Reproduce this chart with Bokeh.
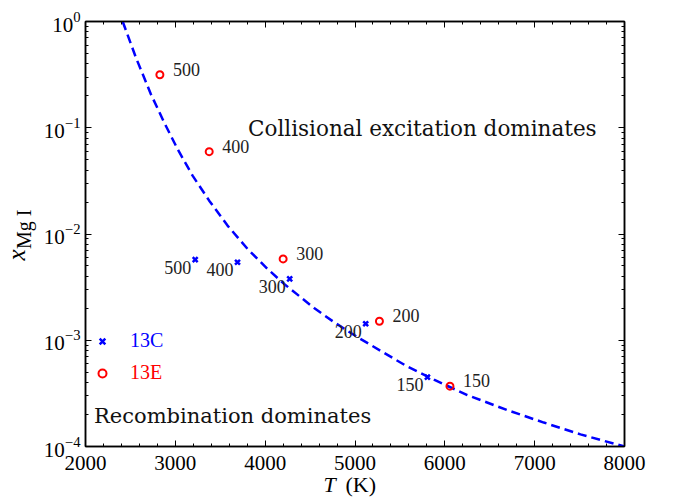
import numpy as np
from bokeh.plotting import figure
from bokeh.layouts import column, row
from bokeh.models import (LinearAxis, LogAxis, SingleIntervalTicker, LogTicker, Label,
                          Legend, LegendItem, ColumnDataSource, CustomJSTickFormatter)
from bokeh.core.properties import value
from bokeh.embed import file_html
from bokeh.resources import INLINE

# ---- data ----
curve_T = [2414, 2561, 2728, 2876, 3025, 3192, 3377, 3581, 3804, 4026, 4211, 4545,
           4767, 5027, 5286, 5583, 5879, 6250, 6695, 7102, 7510, 8000]
curve_x = [1.0, 0.458, 0.207, 0.112, 0.063, 0.0354, 0.0206, 0.0120, 7.24e-3, 4.69e-3,
           3.39e-3, 2.01e-3, 1.48e-3, 1.07e-3, 7.95e-4, 5.65e-4, 4.25e-4, 3.05e-4,
           2.2e-4, 1.68e-4, 1.3e-4, 1.0e-4]

c13_T = [3221, 3692, 4273, 5119, 5806]
c13_x = [5.74e-3, 5.42e-3, 3.78e-3, 1.43e-3, 4.49e-4]
c13_lab = ["500", "400", "300", "200", "150"]

e13_T = [2828, 3377, 4200, 5272, 6057]
e13_x = [0.315, 0.0596, 5.83e-3, 1.51e-3, 3.70e-4]
e13_lab = ["500", "400", "300", "200", "150"]

SERIF = "Liberation Serif"
WORDS = "DejaVu Serif"

H = 486  # height of the main figure / left strip

# ---- main plot ----
p = figure(width=639, height=H, x_range=(2000, 8000), y_range=(1e-4, 1),
           y_axis_type="log", output_backend="svg", toolbar_location=None,
           min_border_left=47, min_border_right=53, min_border_top=21,
           min_border_bottom=H - 446)
p.xgrid.visible = False
p.ygrid.visible = False
p.outline_line_color = "black"
p.outline_line_width = 1.5
p.background_fill_color = "white"
p.border_fill_color = "white"

bottom = p.below[0]
left = p.left[0]

blank = CustomJSTickFormatter(code="return ''")
top = LinearAxis(formatter=blank)
right = LogAxis(formatter=blank)
p.add_layout(top, "above")
p.add_layout(right, "right")

for ax in [bottom, top]:
    ax.ticker = SingleIntervalTicker(interval=1000, num_minor_ticks=5)
for ax in [left, right]:
    ax.ticker = LogTicker(num_minor_ticks=10)

for ax in [bottom, left, top, right]:
    ax.axis_line_color = "black"
    ax.axis_line_width = 1.5
    ax.major_tick_in = 6
    ax.major_tick_out = 0
    ax.minor_tick_in = 3
    ax.minor_tick_out = 0
    ax.major_tick_line_color = "black"
    ax.minor_tick_line_color = "black"
    ax.major_tick_line_width = 1
    ax.minor_tick_line_width = 1
    ax.major_label_text_font = SERIF
    ax.major_label_text_font_size = "21px"
    ax.major_label_text_color = "black"
    ax.axis_label = None

for ax in [top, right]:
    ax.major_label_text_font_size = "1px"
    ax.major_label_standoff = 0

bottom.major_label_standoff = 9
left.major_label_standoff = 5

# dashed curve
p.line(curve_T, curve_x, line_color="blue", line_width=2.5, line_dash="9 5")

src_c = ColumnDataSource(dict(T=c13_T, x=c13_x, lab=c13_lab))
src_e = ColumnDataSource(dict(T=e13_T, x=e13_x, lab=e13_lab))

r_c = p.scatter("T", "x", source=src_c, marker="x", size=7, line_width=2.5,
                line_color="blue")
r_e = p.scatter("T", "x", source=src_e, marker="circle", size=7, line_width=2,
                line_color="red", fill_color=None)

p.text("T", "x", text="lab", source=src_c, text_align="right", text_baseline="middle",
       x_offset=-4, y_offset=7.5, text_font=value(SERIF), text_font_size="18px",
       text_color="#222222")
p.text("T", "x", text="lab", source=src_e, text_align="left", text_baseline="middle",
       x_offset=13, y_offset=-5.5, text_font=value(SERIF), text_font_size="18px",
       text_color="#222222")

# legends (one per colour)
leg_c = Legend(items=[LegendItem(label="13C", renderers=[r_c])], location=(7, 94),
               padding=0, margin=0, glyph_width=20, glyph_height=20, label_height=20,
               label_standoff=18, border_line_alpha=0, background_fill_alpha=0,
               label_text_font=SERIF, label_text_font_size="20px",
               label_text_color="blue")
leg_e = Legend(items=[LegendItem(label="13E", renderers=[r_e])], location=(7, 62),
               padding=0, margin=0, glyph_width=20, glyph_height=20, label_height=20,
               label_standoff=18, border_line_alpha=0, background_fill_alpha=0,
               label_text_font=SERIF, label_text_font_size="20px",
               label_text_color="red")
p.add_layout(leg_c, "center")
p.add_layout(leg_e, "center")

# annotations inside the frame (frame-relative screen units)
p.add_layout(Label(x=162.5, y=318.4, x_units="screen", y_units="screen",
                   text="Collisional excitation dominates", text_font=WORDS,
                   text_font_size="21.5px", text_color="#111111",
                   text_baseline="middle"))
p.add_layout(Label(x=8.5, y=30.1, x_units="screen", y_units="screen",
                   text="Recombination dominates", text_font=WORDS,
                   text_font_size="21px", text_color="#111111",
                   text_baseline="middle"))


def strip(w, h, **kw):
    f = figure(width=w, height=h, x_range=(0, w), y_range=(0, h),
               output_backend="svg", toolbar_location=None,
               x_axis_location=None, y_axis_location=None,
               min_border_left=0, min_border_right=0, min_border_top=0,
               min_border_bottom=0, **kw)
    f.title.visible = False
    f.xgrid.visible = False
    f.ygrid.visible = False
    f.outline_line_color = None
    f.background_fill_alpha = 0
    f.border_fill_alpha = 0
    return f


# y-axis title strip (left of the main plot); coordinates are pixels from bottom
ylab = strip(38, H)
ylab.text(x=[16.3], y=[H - 267], text=["x"], angle=np.pi / 2,
          text_font=value(SERIF), text_font_style="italic", text_font_size="25px",
          text_align="center", text_baseline="middle", text_color="black")
ylab.text(x=[23.3], y=[H - 237.5], text=["Mg I"], angle=np.pi / 2,
          text_font=value(SERIF), text_font_size="20px",
          text_align="center", text_baseline="middle", text_color="black")

# x-axis title strip (below, pulled up over the empty border)
xlab = strip(677, 34, margin=(466 - H, 0, 0, 0))
xlab.add_layout(Label(x=323, y=15.9, x_units="screen", y_units="screen", text="T",
                      text_font=SERIF, text_font_style="italic", text_font_size="22px",
                      text_baseline="middle", text_color="black"))
xlab.add_layout(Label(x=345, y=15.9, x_units="screen", y_units="screen", text="(K)",
                      text_font=SERIF, text_font_size="22px",
                      text_baseline="middle", text_color="black"))

layout = column(row(ylab, p, spacing=0), xlab, spacing=0)

open("out.html", "w").write(file_html(layout, INLINE))
